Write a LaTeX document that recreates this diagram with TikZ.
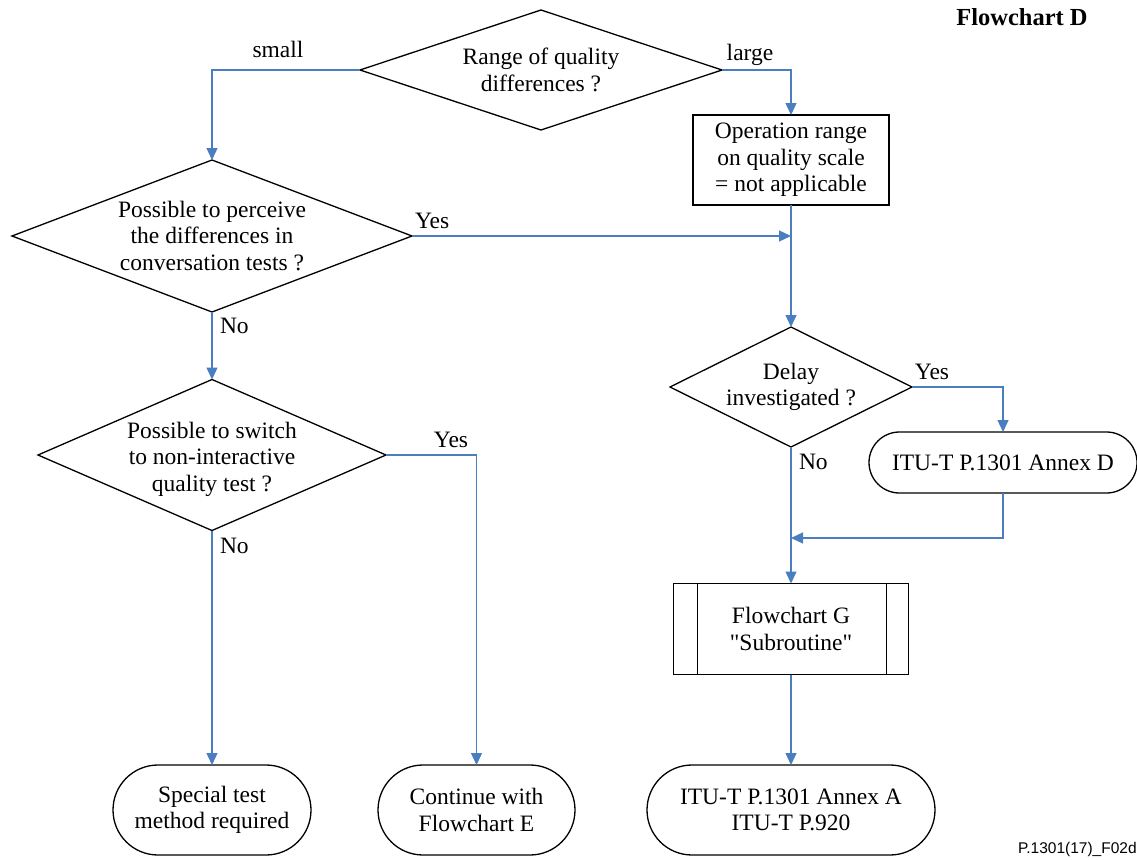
\documentclass[tikz,border=0pt]{standalone}
\usepackage{fontspec}
\setmainfont{Liberation Serif}
\setsansfont{Liberation Sans}
\usetikzlibrary{arrows.meta,calc,shapes.geometric}
\definecolor{flowblue}{RGB}{74,126,193}
\begin{document}
\begin{tikzpicture}[x=1pt,y=-1pt,
  every node/.style={font=\fontsize{23.5}{26.5}\selectfont, inner sep=0pt, outer sep=0pt},
  shapeline/.style={draw=black, line width=1.3pt},
  decision/.style={shapeline, diamond},
  dtext/.style={align=center},
  procbox/.style={shapeline, rectangle, align=center},
  terminal/.style={shapeline, rectangle, align=center, minimum height=#1, rounded corners=#1/2},
  flow/.style={draw=flowblue, line width=1.3pt},
  arr/.style={flow, -{Triangle[length=12pt,width=11pt]}},
  tag/.style={anchor=base west}
]
\useasboundingbox (0,0) rectangle (1137,859);

% title and figure reference
\node[font=\bfseries\fontsize{24.5}{28}\selectfont, anchor=base] (title) at (1022,26) {Flowchart D};
\node[font=\sffamily\fontsize{15.5}{18}\selectfont, anchor=base west] (figref) at (1018,853) {P.1301(17)\_F02d};

% decisions
\node[decision, minimum width=362pt, minimum height=120pt,
      label={[dtext]center:{Range of quality\\differences ?}}] (range) at (541,70) {};
\node[decision, minimum width=400pt, minimum height=152pt,
      label={[dtext]center:{Possible to perceive\\the differences in\\conversation tests ?}}] (perceive) at (212,236) {};
\node[decision, minimum width=348pt, minimum height=151pt,
      label={[dtext, yshift=-4pt]center:{Possible to switch\\to non-interactive\\quality test ?}}] (switch) at (212,455) {};
\node[decision, minimum width=242pt, minimum height=120pt,
      label={[dtext]center:{Delay\\investigated ?}}] (delay) at (791,387) {};

% processes
\node[procbox, minimum width=196pt, minimum height=90pt] (oprange) at (791,160)
  {Operation range\\on quality scale\\= not applicable};
\node[procbox, minimum width=235pt, minimum height=91pt] (sub) at (791,629)
  {Flowchart G\\\textquotedbl Subroutine\textquotedbl};
\draw[black, line width=1.3pt]
  ($(sub.north west)+(24,0)$) -- ($(sub.south west)+(24,0)$)
  ($(sub.north east)+(-22,0)$) -- ($(sub.south east)+(-22,0)$);

% terminals
\node[terminal=61pt, minimum width=268pt] (annexD) at (1003,462.5) {ITU-T P.1301 Annex D};
\node[terminal=90pt, minimum width=198pt] (special) at (212,810) {Special test\\method required};
\node[terminal=90pt, minimum width=197pt] (contE) at (476.5,810) {Continue with\\Flowchart E};
\node[terminal=90pt, minimum width=288pt] (annexA) at (791,810) {ITU-T P.1301 Annex A\\ITU-T P.920};

% junction points on the right-hand trunk
\coordinate (joinYes) at (791,236);
\coordinate (joinD) at (791,538);

% connectors
\draw[arr] (range.west) -| (perceive.north);
\draw[arr] (range.east) -| (oprange.north);
\draw[arr] (perceive.east) -- (joinYes);
\draw[arr] (oprange.south) -- (delay.north);
\draw[arr] (perceive.south) -- (switch.north);
\draw[arr] (switch.south) -- (special.north);
\draw[arr] (switch.east) -| (contE.north);
\draw[arr] (delay.east) -| (annexD.north);
\draw[arr] (annexD.south) |- (joinD);
\draw[arr] (delay.south) -- (sub.north);
\draw[arr] (sub.south) -- (annexA.north);

% branch labels
\node[anchor=base] (lsmall) at (278,58) {small};
\node[anchor=base] (llarge) at (750,60) {large};
\node[tag] (lyes1) at (415,228) {Yes};
\node[tag] (lno1) at (220,333) {No};
\node[anchor=base] (lyes2) at (451,447) {Yes};
\node[tag] (lno2) at (220,553) {No};
\node[anchor=base] (lyes3) at (932,379) {Yes};
\node[tag] (lno3) at (799,469) {No};
\end{tikzpicture}
\end{document}
